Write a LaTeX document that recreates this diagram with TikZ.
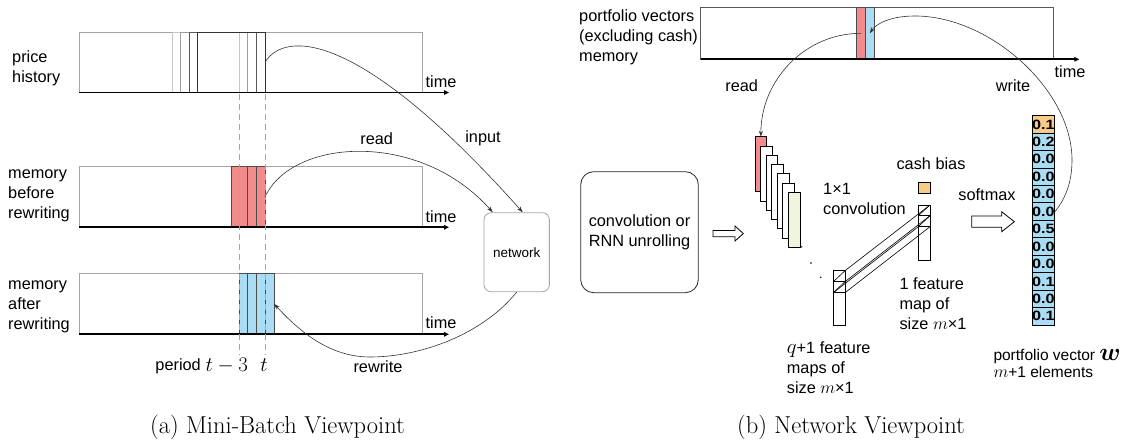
\documentclass[tikz,border=0pt]{standalone}
\usepackage{fontspec}
\usepackage{amsmath}
\newfontfamily\arial{Liberation Sans}
\usetikzlibrary{arrows.meta}
\definecolor{memred}{RGB}{242,139,139}
\definecolor{memblue}{RGB}{170,220,243}
\definecolor{cashor}{RGB}{248,202,140}
\definecolor{featgreen}{RGB}{240,245,222}
\definecolor{dashor}{RGB}{236,145,80}
\definecolor{framegray}{RGB}{165,165,165}
\newcommand\labfont{\arial\fontsize{16.3}{20}\selectfont}
\begin{document}
\begin{tikzpicture}[x=1pt,y=-1pt,
  box/.style={inner sep=0pt, outer sep=0pt, anchor=north west},
  lab/.style={font=\labfont, align=left, anchor=west, inner sep=0pt},
  clab/.style={font=\labfont, inner sep=0pt},
  memframe/.style={draw=framegray, line width=0.8pt},
  axis/.style={line width=1.6pt, -{Triangle[length=5pt,width=4.5pt]}},
  conn/.style={draw=black!80, line width=0.6pt, -{Stealth[length=6pt,width=4pt]}},
  cellbox/.style={draw=black, line width=0.8pt, inner sep=0pt, minimum width=21.3pt, minimum height=17.44pt,
     font=\arial\bfseries\fontsize{13.5}{14}\selectfont},
  fmap/.style={box, draw=black, line width=0.8pt, minimum width=11.7pt, minimum height=55pt},
  guide/.style={draw=dashor, line width=1.2pt, dash pattern=on 6pt off 4pt},
  hollow/.style={draw=black, line width=0.8pt, fill=white},
  caption/.style={font=\fontsize{24.5}{28}\selectfont, inner sep=0pt}
]
\useasboundingbox (0,0) rectangle (1124,443);

% ---------------- (a) Mini-Batch Viewpoint ----------------
% price history
\node[box, memframe, minimum width=343pt, minimum height=60.5pt] (ph) at (79,32) {};
\draw[black!22, line width=0.8pt] (172,32) rectangle (239.3,92.5);
\draw[black!38, line width=0.8pt] (180,32) rectangle (247.7,92.5);
\draw[black!65, line width=0.8pt] (189,32) rectangle (256.7,92.5);
\node[box, draw=black!80, line width=0.9pt, minimum width=68pt, minimum height=60.5pt] (win4) at (197,32) {};
\draw[axis] (79,92.5) -- (449,92.5);
\node[clab] (t1) at (441,82) {time};
\node[lab] (lph) at (12,68) {price\\history};

% memory before rewriting
\node[box, memframe, minimum width=343pt, minimum height=60.6pt] (mb) at (79,166.7) {};
\node[box, draw=black!70, line width=0.8pt, fill=memred, minimum width=34pt, minimum height=60.6pt] (redblk) at (231,166.7) {};
\draw[black!70, line width=0.8pt] (247.7,166.7) -- (247.7,227.3) (256.7,166.7) -- (256.7,227.3);
\draw[axis] (79,227.3) -- (449,227.3);
\node[clab] (t2) at (441,216.7) {time};
\node[lab] (lmb) at (8,196) {memory\\before\\rewriting};

% memory after rewriting
\node[box, memframe, minimum width=343pt, minimum height=61pt] (ma) at (79,273.3) {};
\node[box, draw=black!70, line width=0.8pt, fill=memblue, minimum width=35pt, minimum height=61pt] (blueblk) at (239,273.3) {};
\draw[black!70, line width=0.8pt] (247.7,273.3) -- (247.7,334.3) (256.3,273.3) -- (256.3,334.3) (265,273.3) -- (265,334.3);
\draw[axis] (79,334.3) -- (449,334.3);
\node[clab] (t3) at (441,322.7) {time};
\node[lab] (lma) at (8,307) {memory\\after\\rewriting};

% period guides
\draw[guide] (239.5,94) -- (239.5,355);
\draw[guide] (265.2,94) -- (265.2,355);
\node[clab, anchor=east] (per) at (201,366.7) {period};
\node[inner sep=0pt, font=\fontsize{20}{22}\selectfont] (pt3) at (226.7,365.5) {$t-3$};
\node[inner sep=0pt, font=\fontsize{20}{22}\selectfont] (pt) at (264,365.5) {$t$};

% network
\node[draw=framegray, line width=0.8pt, rounded corners=7pt, minimum width=65.3pt, minimum height=79pt,
      inner sep=0pt, font=\arial\fontsize{13.5}{16}\selectfont] (net) at (516.7,252.2) {network};

\draw[conn] (win4.east) .. controls (285,30) and (360,30) .. ([xshift=6pt]net.north);
\draw[conn] (redblk.east) .. controls (292,138) and (420,130) .. ([xshift=-24pt]net.north);
\coordinate (rw) at (370,357);
\draw[conn] (net.south) .. controls (482,335) and (420,357) .. (rw) .. controls (330,357) and (300,332) .. (blueblk.east);
\node[clab] (lread) at (376.7,138.3) {read};
\node[clab] (linput) at (483,138.3) {input};
\node[clab] (lrewrite) at (378,366.7) {rewrite};

\node[caption] (capa) at (277.5,427) {(a) Mini-Batch Viewpoint};

% ---------------- (b) Network Viewpoint ----------------
\node[box, draw=black!65, line width=0.8pt, minimum width=352.6pt, minimum height=52pt] (pv) at (700.7,7.3) {};
\node[box, draw=black!70, line width=0.8pt, fill=memred, minimum width=8.6pt, minimum height=52pt] (redpv) at (856.7,7.3) {};
\node[box, draw=black!70, line width=0.8pt, fill=memblue, minimum width=9pt, minimum height=52pt] (bluepv) at (865.3,7.3) {};
\draw[axis] (700.7,59.3) -- (1079.3,59.3);
\node[clab] (t4) at (1070,72) {time};
\node[lab] (lpv) at (579,37.7) {portfolio vectors\\(excluding cash)\\memory};
\node[clab] (lread2) at (741.7,86) {read};
\node[clab] (lwrite) at (1013,86) {write};

% convolution box
\node[draw=black!85, line width=0.8pt, rounded corners=13pt, minimum width=117.6pt, minimum height=121pt,
      inner sep=0pt, align=center, font=\labfont] (conv) at (639.5,232.2) {convolution or\\RNN unrolling};
\draw[hollow] (713,230.5) -- (735,230.5) -- (735,226) -- (743.3,233.6) -- (735,241) -- (735,236.8) -- (713,236.8) -- cycle;

% feature map stack
\foreach \i/\c in {0/memred,1/white,2/white,3/white,4/white,5/white,6/featgreen}{
  \node[fmap, fill=\c] (map\i) at ({755+5.55*\i},{136.7+9.3*\i}) {};
}
\fill (801.7,246.9) circle (0.8pt);
\fill (811,263) circle (0.8pt);
\fill (820.7,277.3) circle (0.8pt);

% q+1 feature map column
\node[box, draw=black, line width=0.8pt, minimum width=11.7pt, minimum height=54.3pt] (qcol) at (833.3,270.7) {};
\draw[black, line width=0.8pt] (833.3,281.7) -- (845,281.7) (833.3,292.7) -- (845,292.7);
\draw[black, line width=0.6pt] (833.3,281.7) -- (845,270.7) (833.3,292.7) -- (845,281.7);
% 1 feature map column
\node[box, draw=black, line width=0.8pt, minimum width=11.7pt, minimum height=55pt] (ocol) at (918.3,205) {};
\draw[black, line width=0.8pt] (918.3,215.7) -- (930,215.7) (918.3,226.7) -- (930,226.7);
\draw[black, line width=0.6pt] (918.3,215.7) -- (930,205) (918.3,226.7) -- (930,215.7);
% 1x1 convolution prism
\draw[black, line width=0.6pt]
  (845,270.7) -- (930,205)
  (845,281.7) -- (930,215.7)
  (833.3,292.7) -- (918.3,226.7)
  (845,292.7) -- (930,226.7);
% cash bias
\node[box, draw=black, line width=0.8pt, fill=cashor, minimum width=11.7pt, minimum height=11pt] (cash) at (918.3,182.3) {};
\node[clab] (lcash) at (931,163.3) {cash bias};
\node[lab] (lconv) at (823,199.3) {1×1\\convolution};
\node[lab] (lone) at (899.3,303.3) {1 feature\\map of\\size {\fontsize{17}{20}\selectfont$m$}×1};
\node[lab] (lq) at (786.7,368) {{\fontsize{20}{20}\selectfont$q$}+1 feature\\maps of\\size {\fontsize{17}{20}\selectfont$m$}×1};

% softmax arrow
\draw[hollow] (971.7,216) -- (1001.7,216) -- (1001.7,211.7) -- (1014.3,221.7) -- (1001.7,231.7) -- (1001.7,227.3) -- (971.7,227.3) -- cycle;
\node[clab] (lsoft) at (987,194.3) {softmax};

% portfolio vector
\foreach \k/\v in {1/0.1,2/0.2,3/0.0,4/0.0,5/0.0,6/0.0,7/0.5,8/0.0,9/0.0,10/0.1,11/0.0,12/0.1}{
  \ifnum\k=1 \def\cc{cashor}\else\def\cc{memblue}\fi
  \node[cellbox, fill=\cc] (v\k) at (1043.35,{115.7+17.44*(\k-0.5)}) {\scalebox{1.2}[1]{\v}};
}
\node[lab, font=\arial\fontsize{15.5}{17}\selectfont] (lw) at (993.3,363.3) {portfolio vector {\fontsize{23}{17}\selectfont$\boldsymbol{w}$}\\{\fontsize{17}{17}\selectfont$m$}+1 elements};

% read / write arcs
\draw[conn] (redpv.center) to[out=180,in=90] (map0.north);
\coordinate (wa) at (1072,160);
\coordinate (wb) at (915,16);
\draw[conn] (v6.east) .. controls (1064,200) and (1072,185) .. (wa) .. controls (1072,90) and (990,16) .. (wb) .. controls (890,16) and (876,24) .. (bluepv.center);

\node[caption] (capb) at (851,427) {(b) Network Viewpoint};
\end{tikzpicture}
\end{document}
